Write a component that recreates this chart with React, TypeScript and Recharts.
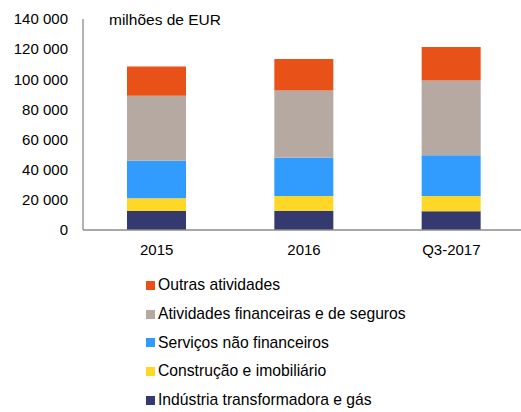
import React from "react";
import { BarChart, Bar, XAxis, YAxis } from "recharts";

const categories = ["2015", "2016", "Q3-2017"];
const industria = [12600, 12800, 12400];
const construcao = [8500, 9800, 10200];
const servicos = [24900, 25400, 27000];
const financeiras = [43000, 44600, 49600];
const outras = [19500, 20800, 22200];
const yTicks = [0, 20000, 40000, 60000, 80000, 100000, 120000, 140000];

const series = [
  { key: "industria", name: "Indústria transformadora e gás", values: industria, color: "#343A70" },
  { key: "construcao", name: "Construção e imobiliário", values: construcao, color: "#FFD726" },
  { key: "servicos", name: "Serviços não financeiros", values: servicos, color: "#319BFE" },
  { key: "financeiras", name: "Atividades financeiras e de seguros", values: financeiras, color: "#B5A9A2" },
  { key: "outras", name: "Outras atividades", values: outras, color: "#E85118" },
];

const data = categories.map((c, i) => {
  const row: Record<string, string | number> = { category: c };
  series.forEach((s) => {
    row[s.key] = s.values[i];
  });
  return row;
});

const font = "'Liberation Sans', Arial, sans-serif";
const fmt = (v: number) => v.toLocaleString("en-US").replace(/,/g, " ");

export default function App() {
  return (
    <div style={{ position: "absolute", left: 0, top: 0, width: 521, height: 412, overflow: "hidden", background: "#fff", fontFamily: font }}>
      <BarChart width={530} height={260} data={data} margin={{ top: 19, right: 5, left: 0, bottom: 0 }}>
        <YAxis
          width={83}
          domain={[0, 140000]}
          ticks={yTicks}
          interval={0}
          tickFormatter={fmt}
          tickLine={false}
          tickSize={5}
          tickMargin={10}
          axisLine={{ stroke: "#8C8C8C", strokeWidth: 1.3 }}
          tick={{ fill: "#000", fontSize: 15, fontFamily: font }}
        />
        <XAxis
          dataKey="category"
          height={30}
          tickLine={false}
          tickMargin={8}
          axisLine={{ stroke: "#8C8C8C", strokeWidth: 1.3 }}
          tick={{ fill: "#000", fontSize: 15, fontFamily: font }}
        />
        {series.map((s) => (
          <Bar key={s.key} dataKey={s.key} name={s.name} stackId="a" fill={s.color} barSize={59} isAnimationActive={false} />
        ))}
      </BarChart>
      <div style={{ position: "absolute", left: 109, top: 10, fontSize: 15.5, color: "#000", whiteSpace: "nowrap", lineHeight: "20px" }}>
        milhões de EUR
      </div>
      <div style={{ position: "absolute", left: 146, top: 271 }}>
        {[...series].reverse().map((s) => (
          <div key={s.key} style={{ display: "flex", alignItems: "center", height: 28.7, fontSize: 15.7, color: "#000", whiteSpace: "nowrap" }}>
            <span style={{ display: "inline-block", width: 9, height: 9, background: s.color, marginRight: 3 }} />
            <span>{s.name}</span>
          </div>
        ))}
      </div>
    </div>
  );
}
